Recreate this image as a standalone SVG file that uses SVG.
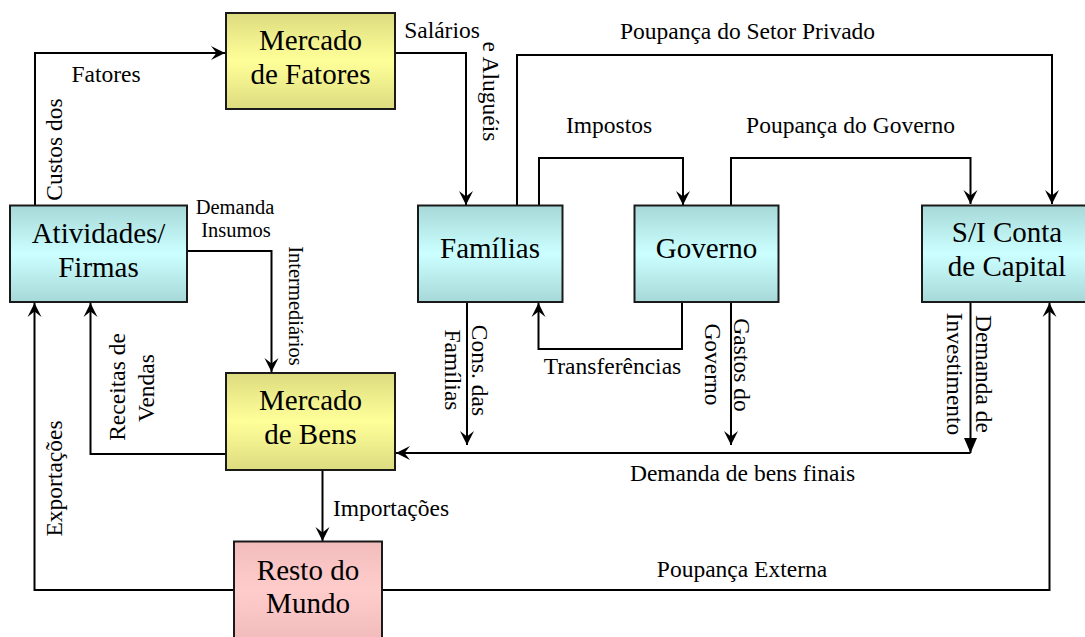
<svg xmlns="http://www.w3.org/2000/svg" width="1085" height="637" viewBox="0 0 1085 637">
<defs>
<linearGradient id="gy" x1="0" y1="0" x2="0" y2="1">
<stop offset="0" stop-color="#dcdc80"/><stop offset="0.5" stop-color="#ffff99"/><stop offset="1" stop-color="#dcdc80"/>
</linearGradient>
<linearGradient id="gc" x1="0" y1="0" x2="0" y2="1">
<stop offset="0" stop-color="#a6d8d8"/><stop offset="0.5" stop-color="#ccffff"/><stop offset="1" stop-color="#a6d8d8"/>
</linearGradient>
<linearGradient id="gp" x1="0" y1="0" x2="0" y2="1">
<stop offset="0" stop-color="#f2bcbc"/><stop offset="0.5" stop-color="#ffcccc"/><stop offset="1" stop-color="#f2bcbc"/>
</linearGradient>
<marker id="ah" viewBox="-16 -9 18 18" refX="0" refY="0" markerWidth="18" markerHeight="18" markerUnits="userSpaceOnUse" orient="auto">
<path d="M0,0 L-14,-7 L-8.5,0 L-14,7 Z" fill="#000"/>
</marker>
<marker id="tri" viewBox="-16 -9 18 18" refX="0" refY="0" markerWidth="18" markerHeight="18" markerUnits="userSpaceOnUse" orient="auto">
<path d="M0,0 L-15,-6.5 L-15,6.5 Z" fill="#000"/>
</marker>
</defs>
<style>
.box{stroke:#1a1a1a;stroke-width:2}
.bt{font-family:"Liberation Serif","Times New Roman",serif;font-size:29px;fill:#000;text-anchor:middle}
.lb{font-family:"Liberation Serif","Times New Roman",serif;font-size:23.5px;fill:#000;text-anchor:middle}
.sm{font-size:20.5px}
.c{fill:none;stroke:#000;stroke-width:2}
</style>

<g id="connectors">
<path class="c" d="M35,205 V53 H225" marker-end="url(#ah)"/>
<path class="c" d="M395,53 H466 V205" marker-end="url(#ah)"/>
<path class="c" d="M517,205 V55 H1052 V204" marker-end="url(#ah)"/>
<path class="c" d="M539,205 V158 H683 V205" marker-end="url(#ah)"/>
<path class="c" d="M731,205 V158 H970.5 V204" marker-end="url(#ah)"/>
<path class="c" d="M187,251 H271.5 V372" marker-end="url(#ah)"/>
<path class="c" d="M226,454 H90.5 V303" marker-end="url(#ah)"/>
<path class="c" d="M234,590 H34.5 V303" marker-end="url(#ah)"/>
<path class="c" d="M322.5,470 V541" marker-end="url(#ah)"/>
<path class="c" d="M467,302 V445" marker-end="url(#ah)"/>
<path class="c" d="M682,302 V349 H538.5 V303" marker-end="url(#ah)"/>
<path class="c" d="M731,302 V445" marker-end="url(#ah)"/>
<path class="c" d="M970.5,302 V453" marker-end="url(#tri)"/>
<path class="c" d="M970.5,453 H396" marker-end="url(#ah)"/>
<path class="c" d="M382,590 H1049.5 V303" marker-end="url(#ah)"/>
</g>

<g id="labels">
<text class="lb" x="442" y="37.5">Salários</text>
<text class="lb" transform="translate(483,91.5) rotate(90)">e Aluguéis</text>
<text class="lb" x="106" y="81.5">Fatores</text>
<text class="lb" transform="translate(61.5,149.5) rotate(-90)">Custos dos</text>
<text class="lb" x="747.5" y="39">Poupança do Setor Privado</text>
<text class="lb" x="609" y="133">Impostos</text>
<text class="lb" x="850.5" y="133">Poupança do Governo</text>
<text class="lb sm" x="235" y="214">Demanda</text>
<text class="lb sm" x="236" y="237">Insumos</text>
<text class="lb sm" transform="translate(288.5,306) rotate(90)">Intermediários</text>
<text class="lb" transform="translate(125,387) rotate(-90)">Receitas de</text>
<text class="lb" transform="translate(154,388) rotate(-90)">Vendas</text>
<text class="lb" transform="translate(61.5,478.5) rotate(-90)">Exportações</text>
<text class="lb" transform="translate(472,370.5) rotate(90)">Cons. das</text>
<text class="lb" transform="translate(445,370) rotate(90)">Famílias</text>
<text class="lb" x="612.5" y="374">Transferências</text>
<text class="lb" transform="translate(733.5,365) rotate(90)">Gastos do</text>
<text class="lb" transform="translate(704.5,364.5) rotate(90)">Governo</text>
<text class="lb" transform="translate(975.5,374) rotate(90)">Demanda de</text>
<text class="lb" transform="translate(946.5,374) rotate(90)">Investimento</text>
<text class="lb" x="742.5" y="481">Demanda de bens finais</text>
<text class="lb" x="391" y="516">Importações</text>
<text class="lb" x="742" y="577">Poupança Externa</text>
</g>

<g id="mercado-fatores">
<rect class="box" x="226" y="13" width="169" height="96" fill="url(#gy)"/>
<text class="bt" x="310.5" y="50">Mercado</text>
<text class="bt" x="310.5" y="84">de Fatores</text>
</g>
<g id="atividades">
<rect class="box" x="10" y="205.5" width="177" height="96.5" fill="url(#gc)"/>
<text class="bt" x="98.5" y="243">Atividades/</text>
<text class="bt" x="98.5" y="277">Firmas</text>
</g>
<g id="familias">
<rect class="box" x="418" y="205.5" width="144.5" height="96.5" fill="url(#gc)"/>
<text class="bt" x="490" y="258">Famílias</text>
</g>
<g id="governo">
<rect class="box" x="634.5" y="205.5" width="144" height="96.5" fill="url(#gc)"/>
<text class="bt" x="706.5" y="258">Governo</text>
</g>
<g id="capital">
<rect class="box" x="922" y="205.5" width="170" height="96.5" fill="url(#gc)"/>
<text class="bt" x="1007" y="242">S/I Conta</text>
<text class="bt" x="1007" y="276">de Capital</text>
</g>
<g id="mercado-bens">
<rect class="box" x="226" y="373" width="169" height="97" fill="url(#gy)"/>
<text class="bt" x="310.5" y="410">Mercado</text>
<text class="bt" x="310.5" y="444">de Bens</text>
</g>
<g id="resto-mundo">
<rect class="box" x="234" y="541.5" width="148" height="97" fill="url(#gp)"/>
<text class="bt" x="308" y="580">Resto do</text>
<text class="bt" x="308" y="613">Mundo</text>
</g>
</svg>
